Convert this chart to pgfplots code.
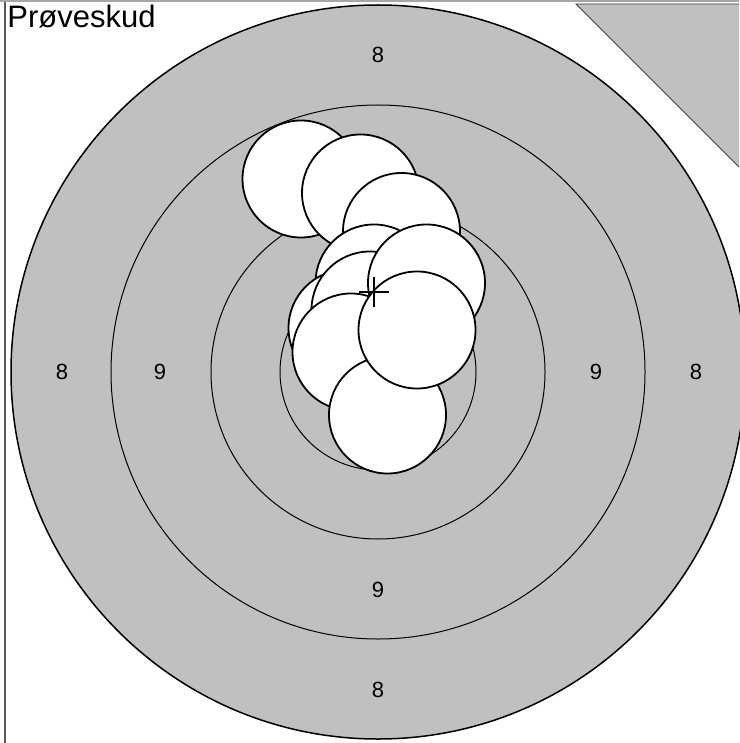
\documentclass[border=0pt]{standalone}
\usepackage{pgfplots}
\pgfplotsset{compat=1.18}
\usepackage{fontspec}
\setmainfont{Liberation Sans}
\definecolor{tg}{RGB}{192,192,192}
\begin{document}
\begin{tikzpicture}
\begin{axis}[scale only axis, width=369.5pt, height=371.5pt,
  xmin=0, xmax=739, ymin=0, ymax=743, y dir=reverse,
  axis line style={draw=none}, ticks=none, clip=true]
% corner triangle of the card
\addplot[fill=tg, draw=black!75, line width=0.4pt] coordinates {(576,4) (760,4) (760,188)} -- cycle;
% target rings
\addplot[only marks, mark=*, mark size=183.5pt, mark options={fill=tg, draw=black, line width=0.75pt}] coordinates {(378,372)};
\addplot[only marks, mark=o, mark size=133.5pt, mark options={draw=black, line width=0.5pt}] coordinates {(378,372)};
\addplot[only marks, mark=o, mark size=83.5pt, mark options={draw=black, line width=0.5pt}] coordinates {(378,372)};
\addplot[only marks, mark=o, mark size=49pt, mark options={draw=black, line width=0.5pt}] coordinates {(378,372)};
% shots, back to front
\addplot[only marks, mark=*, mark size=29.25pt, mark options={fill=white, draw=black, line width=0.9pt}] coordinates {
(301,179) (360.5,193) (401.5,231.5) (374,283) (347,328) (370,310) (426.5,283) (351,352) (387.5,415) (417,330)};
% mean point of impact
\addplot[only marks, mark=+, mark size=7.5pt, mark options={draw=black, line width=0.6pt}] coordinates {(374,292)};
% ring numbers
\addplot[only marks, mark=none, point meta=explicit symbolic, nodes near coords,
  nodes near coords style={anchor=center, font=\fontsize{11}{13}\selectfont, text=black}]
  coordinates {(378,55)[8] (62,372)[8] (696,372)[8] (378,690)[8] (160,372)[9] (596,372)[9] (378,590)[9]};
% frame
\draw[black!65, line width=0.6pt] (axis cs:5,-5) -- (axis cs:5,750);
\draw[black!35, line width=0.8pt] (axis cs:0,0.8) -- (axis cs:745,0.8);
% title
\node[anchor=base west, font=\fontsize{15.5}{17}\selectfont, inner sep=0pt] at (axis cs:7,28) {Prøveskud};
\end{axis}
\pgfresetboundingbox
\path (current axis.south west) rectangle (current axis.north east);
\end{tikzpicture}
\end{document}
